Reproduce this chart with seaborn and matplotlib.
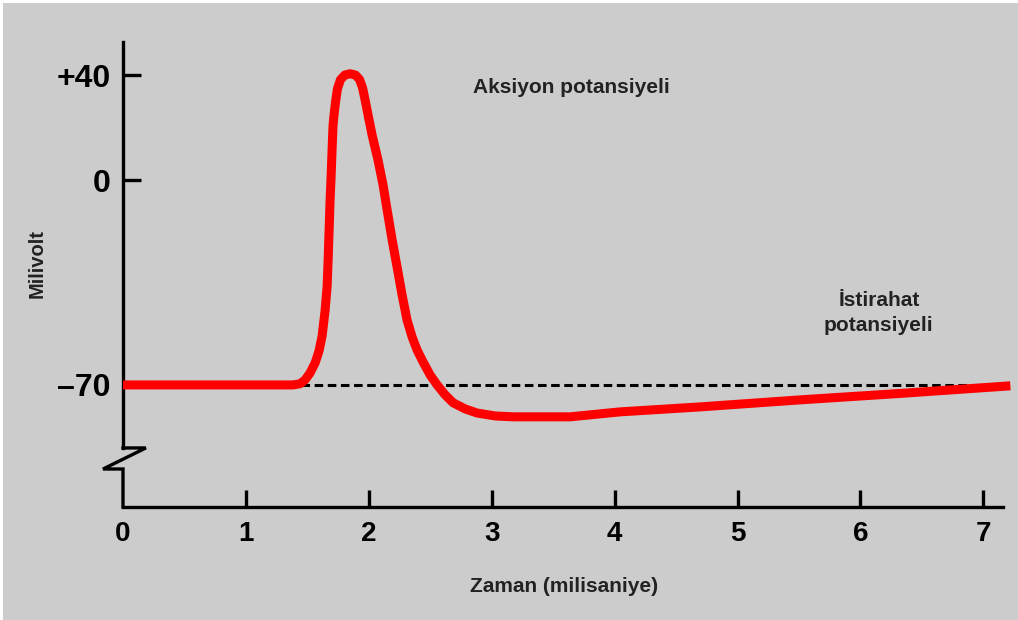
import numpy as np
import pandas as pd
import matplotlib
matplotlib.use("Agg")
import matplotlib.pyplot as plt
from matplotlib.patches import Rectangle
import seaborn as sns

# ---- data ----
time_ms = [0.0, 1.32, 1.384, 1.441, 1.481, 1.522, 1.563, 1.595, 1.620, 1.644, 1.661,
           1.669, 1.677, 1.685, 1.693, 1.701, 1.709, 1.717, 1.730, 1.745, 1.770, 1.805,
           1.848, 1.892, 1.925, 1.950, 1.970, 1.994, 2.027, 2.075, 2.116, 2.149, 2.190,
           2.230, 2.271, 2.311, 2.352, 2.393, 2.442, 2.499, 2.556, 2.621, 2.686,
           2.784, 2.881, 3.028, 3.174, 3.638, 4.045, 4.697, 5.510, 6.324, 7.220]
millivolt = [-70.0, -70.0, -70.0, -69.6, -68.3, -65.9, -62.5, -58.4, -53.3, -44.7, -36.2,
             -27.3, -17.1, -6.8, 1.1, 11.4, 20.9, 24.8, 30.0, 34.8, 38.3, 40.0,
             40.5, 40.0, 38.3, 35.0, 30.5, 24.8, 17.1, 7.6, -1.7, -10.2, -20.5,
             -29.7, -39.3, -47.8, -53.6, -58.1, -62.2, -66.6, -70.0, -73.4, -76.1,
             -78.2, -79.6, -80.6, -80.9, -80.9, -79.2, -77.5, -75.1, -72.9, -70.3]
rest_potential = -70
rest_span = [1.45, 6.95]
x_ticks = [1, 2, 3, 4, 5, 6, 7]
x_ticklabels = ["1", "2", "3", "4", "5", "6", "7"]
y_ticks = [40, 0, -70]
y_ticklabels = ["+40", "0", "–70"]
x_tick0_label = "0"
title_ap = "Aksiyon potansiyeli"
title_rest = "İstirahat\npotansiyeli"
xlabel = "Zaman (milisaniye)"
ylabel = "Milivolt"

df = pd.DataFrame({"t": time_ms, "mv": millivolt})
df_rest = pd.DataFrame({"t": rest_span, "mv": [rest_potential] * 2})

sns.set_style("ticks")
plt.rcParams["font.family"] = ["Liberation Sans", "DejaVu Sans"]
plt.rcParams["font.weight"] = "bold"

BG = "#cccccc"
fig = plt.figure(figsize=(10.18, 6.2), dpi=100, facecolor="white")
fig.patches.append(Rectangle((3 / 1018, 0), 1, 1 - 3 / 620, transform=fig.transFigure,
                             facecolor=BG, edgecolor="none", zorder=-10))
ax = fig.add_axes([123 / 1018, 113 / 620, 880 / 1018, 465 / 620])
ax.set_facecolor("none")

def fwd(y):
    y = np.asarray(y, dtype=float)
    return np.where(y >= 0, y * 2.625, y * 2.9286)

def inv(p):
    p = np.asarray(p, dtype=float)
    return np.where(p >= 0, p / 2.625, p / 2.9286)

ax.set_yscale("function", functions=(fwd, inv))

sns.lineplot(data=df_rest, x="t", y="mv", ax=ax, color="black", lw=2.2,
             linestyle=(0, (2.8, 1.5)), zorder=2)
sns.lineplot(data=df, x="t", y="mv", ax=ax, color="#ff0000", lw=6.5,
             sort=False, zorder=3, clip_on=False)
for l in ax.lines:
    l.set_solid_capstyle("butt")
    l.set_solid_joinstyle("round")

ax.set_xlim(0, 7.16)
ax.set_ylim(-111.7, 52.6)

for s in ["top", "right", "left"]:
    ax.spines[s].set_visible(False)
ax.spines["bottom"].set_linewidth(2.4)
ax.spines["bottom"].set_color("black")

# broken y axis drawn in axes coordinates
lw_ax = 2.4
kw = dict(transform=ax.transAxes, color="black", lw=lw_ax, clip_on=False,
          solid_joinstyle="miter", solid_capstyle="projecting")
ax.plot([0, 0], [1, 0.127], **kw)
ax.plot([0, 0.026, -0.0227, 0, 0], [0.127, 0.127, 0.0817, 0.0817, 0], **kw)

ax.set_xticks([0] + x_ticks)
ax.set_xticklabels([x_tick0_label] + x_ticklabels)
ax.set_yticks(y_ticks)
ax.set_yticklabels(y_ticklabels)
ax.minorticks_off()
ax.tick_params(axis="x", direction="in", length=12, width=2.4, pad=10,
               labelsize=20, colors="black")
ax.tick_params(axis="y", direction="in", length=13, width=2.4, pad=9,
               labelsize=23, colors="black")
ax.xaxis.get_major_ticks()[0].tick1line.set_visible(False)
for lab in ax.get_xticklabels() + ax.get_yticklabels():
    lab.set_fontweight("bold")

ax.set_xlabel("")
ax.set_ylabel("")
fig.text(564 / 1018, 1 - 587 / 620, xlabel, ha="center", va="center",
         fontsize=15, fontweight="bold", color="#222222")
fig.text(37 / 1018, 1 - 264 / 620, ylabel, ha="center", va="center", rotation=90,
         fontsize=14.5, fontweight="bold", color="#222222")

ax.text(3.65, 35.4, title_ap, ha="center", va="center", fontsize=15,
        fontweight="bold", color="#222222")
ax.text(6.15, -45.4, title_rest, ha="center", va="center", fontsize=15,
        fontweight="bold", color="#222222", linespacing=1.4)

fig.savefig("out.png", dpi=100, facecolor=fig.get_facecolor())
